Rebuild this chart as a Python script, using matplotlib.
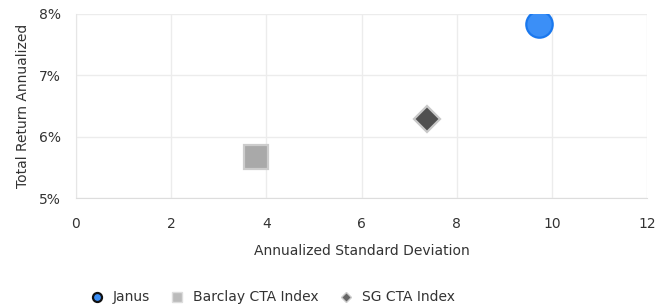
import matplotlib
matplotlib.use("Agg")
import matplotlib.pyplot as plt
from matplotlib.ticker import FuncFormatter

names = ["Janus", "Barclay CTA Index", "SG CTA Index"]
std_dev = [9.73, 3.78, 7.37]
ret = [7.84, 5.66, 6.29]
markers = ["o", "s", "D"]
faces = ["#3b8ff7", "#a9a9a9", "#505050"]
edges = ["#1a78ee", "#cccccc", "#c8c8c8"]
sizes = [19, 17, 13]

x_ticks = [0, 2, 4, 6, 8, 10, 12]
y_ticks = [5, 6, 7, 8]

plt.rcParams["font.family"] = "DejaVu Sans"
fig = plt.figure(figsize=(6.66, 3.07), dpi=100)
ax = fig.add_axes([0.114, 0.355, 0.858, 0.6])

for n, x, y, m, fc, ec, s in zip(names, std_dev, ret, markers, faces, edges, sizes):
    ax.plot(x, y, linestyle="none", marker=m, markersize=s, markerfacecolor=fc,
            markeredgecolor=ec, markeredgewidth=1.6, label=n, zorder=3)

ax.set_xlim(0, 12)
ax.set_ylim(5, 8)
ax.set_xticks(x_ticks)
ax.set_yticks(y_ticks)
ax.yaxis.set_major_formatter(FuncFormatter(lambda v, p: "%d%%" % v))
ax.grid(True, color="#ececec", linewidth=1)
ax.set_axisbelow(True)
for s in ["top", "right"]:
    ax.spines[s].set_visible(False)
ax.spines["left"].set_color("#e6e6e6")
ax.spines["bottom"].set_color("#dddddd")
ax.tick_params(axis="x", length=0, labelsize=10, colors="#333333", pad=14)
ax.tick_params(axis="y", length=0, labelsize=10, colors="#333333", pad=11)
ax.set_xlabel("Annualized Standard Deviation", fontsize=10, color="#333333", labelpad=9)
ax.set_ylabel("Total Return Annualized", fontsize=10, color="#333333", labelpad=6)

handles = []
for m, fc, ec in zip(markers, faces, edges):
    if m == "o":
        h = plt.Line2D([], [], linestyle="none", marker=m, markersize=6.5,
                       markerfacecolor="#3b8ff7", markeredgecolor="#111111", markeredgewidth=1.6)
    elif m == "s":
        h = plt.Line2D([], [], linestyle="none", marker=m, markersize=7.5,
                       markerfacecolor="#bbbbbb", markeredgecolor="#dddddd")
    else:
        h = plt.Line2D([], [], linestyle="none", marker=m, markersize=5,
                       markerfacecolor="#666666", markeredgecolor="#cccccc")
    handles.append(h)
fig.legend(handles, names, loc="center", bbox_to_anchor=(0.408, 0.031), ncol=3,
           frameon=False, fontsize=10, handlelength=1.2, handletextpad=0.55,
           columnspacing=1.35, labelcolor="#333333")

fig.savefig("out.png", dpi=100)
